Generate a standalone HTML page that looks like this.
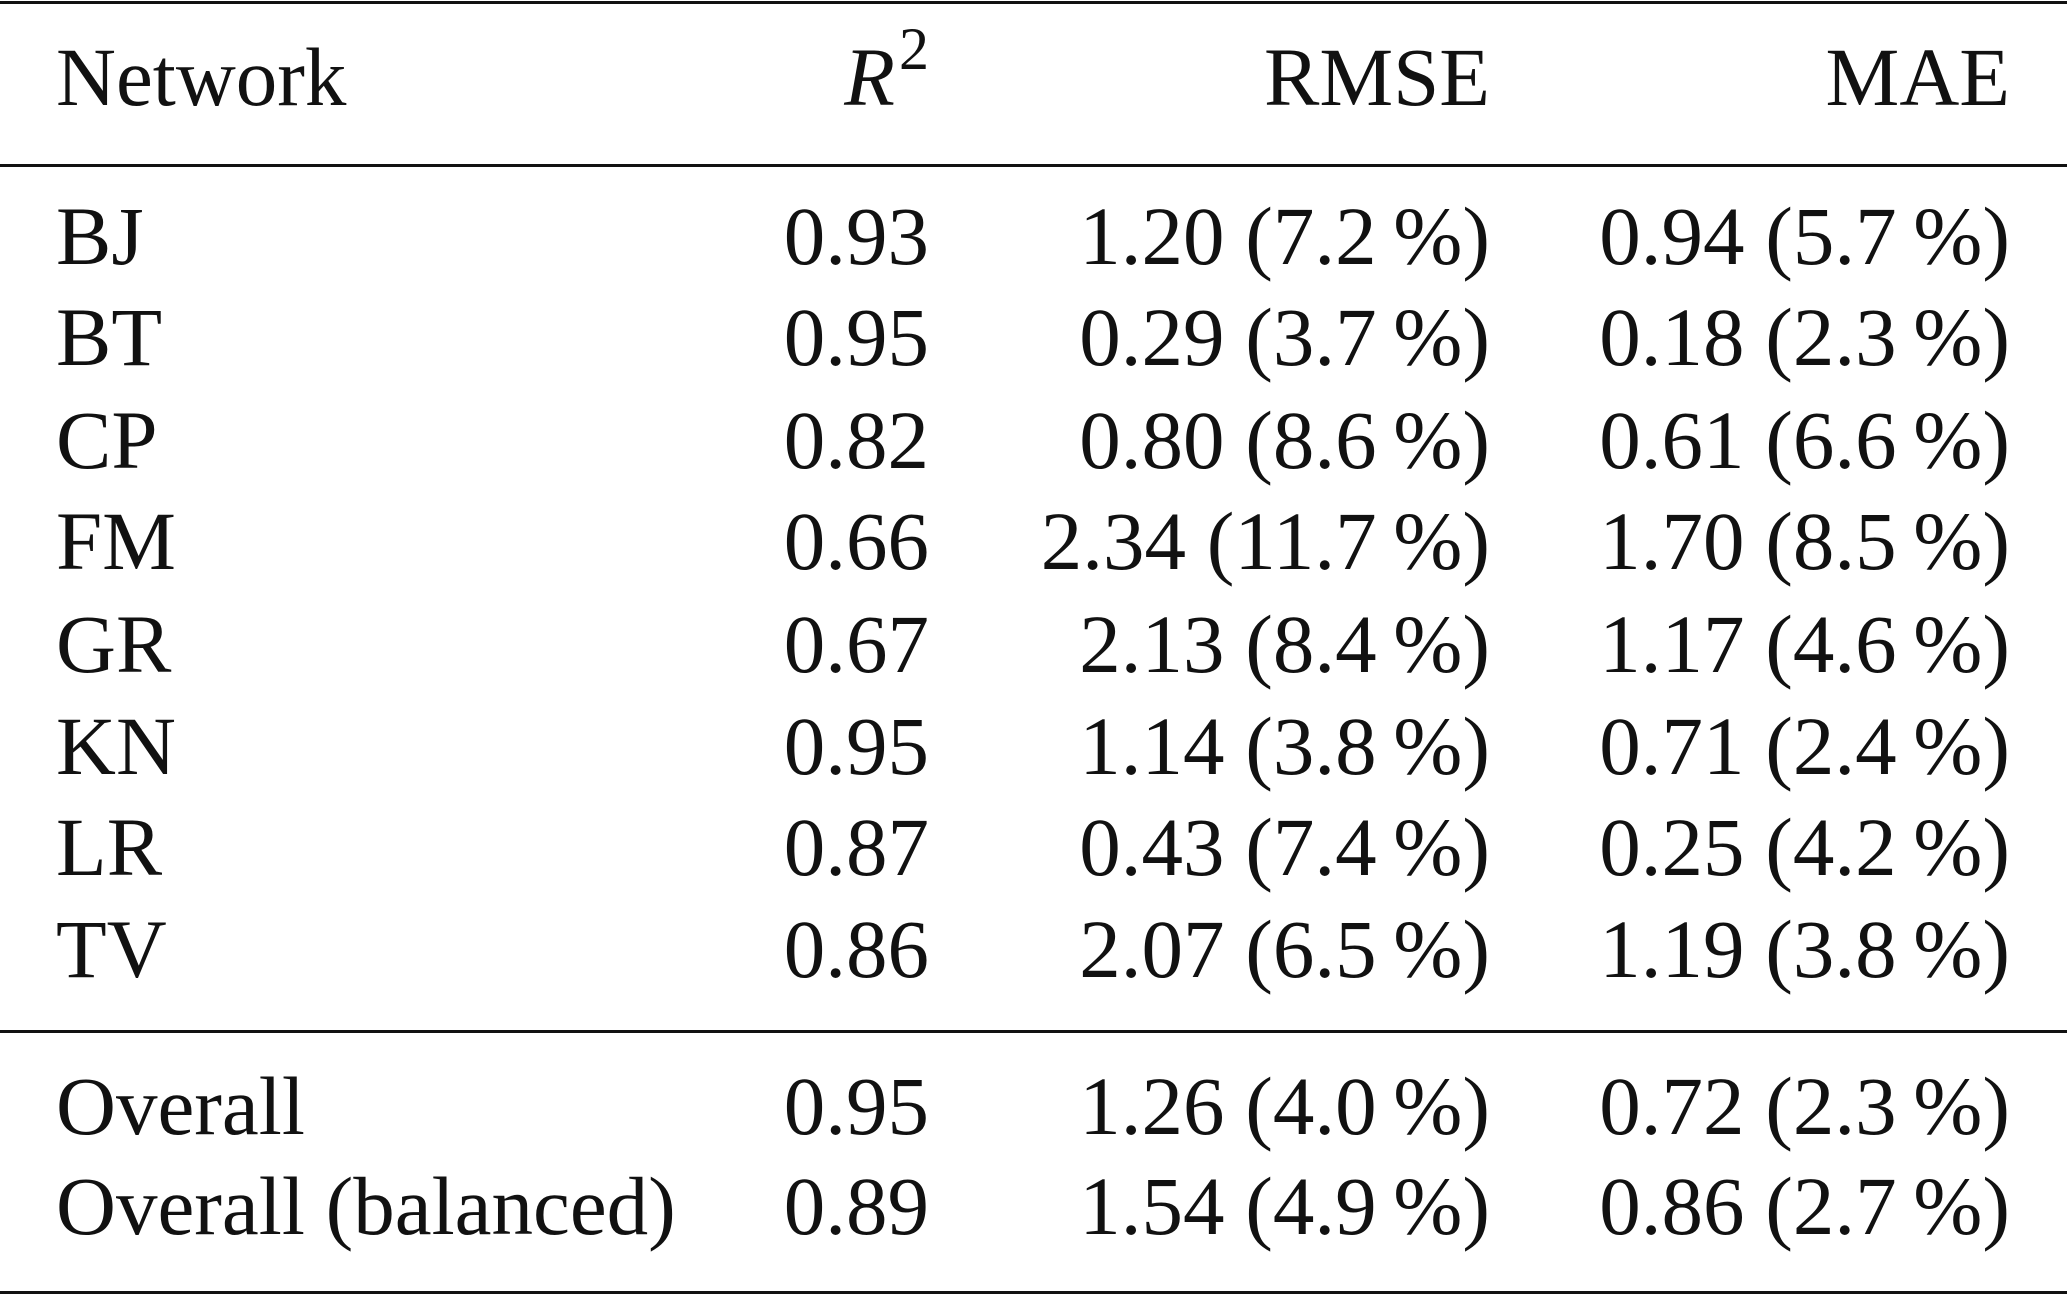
<!DOCTYPE html>
<html><head><meta charset="utf-8"><style>
html,body{margin:0;padding:0;background:#fff;}
body{width:2067px;height:1296px;position:relative;overflow:hidden;font-family:"Liberation Serif",serif;font-size:83px;color:#111;}
.r{position:absolute;left:0;width:2067px;height:3px;background:#111;}
.t{position:absolute;line-height:1;white-space:nowrap;}
.c0{left:56px;}
.c1{right:1138px;}
.c2{right:577px;}
.c3{right:57px;}
sup{font-size:60px;vertical-align:0;position:relative;top:-36px;margin-left:4px;}
</style></head><body>
<div class="r" style="top:1px"></div>
<div class="r" style="top:164px"></div>
<div class="r" style="top:1030px"></div>
<div class="r" style="top:1291px"></div>

<div class="t c0" style="top:36px">Network</div>
<div class="t c1" style="top:36px"><i>R</i><sup>2</sup></div>
<div class="t c2" style="top:36px">RMSE</div>
<div class="t c3" style="top:36px">MAE</div>

<div class="t c0" style="top:195px">BJ</div><div class="t c1" style="top:195px">0.93</div><div class="t c2" style="top:195px">1.20 (7.2&#8201;%)</div><div class="t c3" style="top:195px">0.94 (5.7&#8201;%)</div>
<div class="t c0" style="top:296px">BT</div><div class="t c1" style="top:296px">0.95</div><div class="t c2" style="top:296px">0.29 (3.7&#8201;%)</div><div class="t c3" style="top:296px">0.18 (2.3&#8201;%)</div>
<div class="t c0" style="top:399px">CP</div><div class="t c1" style="top:399px">0.82</div><div class="t c2" style="top:399px">0.80 (8.6&#8201;%)</div><div class="t c3" style="top:399px">0.61 (6.6&#8201;%)</div>
<div class="t c0" style="top:500px">FM</div><div class="t c1" style="top:500px">0.66</div><div class="t c2" style="top:500px">2.34 (11.7&#8201;%)</div><div class="t c3" style="top:500px">1.70 (8.5&#8201;%)</div>
<div class="t c0" style="top:603px">GR</div><div class="t c1" style="top:603px">0.67</div><div class="t c2" style="top:603px">2.13 (8.4&#8201;%)</div><div class="t c3" style="top:603px">1.17 (4.6&#8201;%)</div>
<div class="t c0" style="top:705px">KN</div><div class="t c1" style="top:705px">0.95</div><div class="t c2" style="top:705px">1.14 (3.8&#8201;%)</div><div class="t c3" style="top:705px">0.71 (2.4&#8201;%)</div>
<div class="t c0" style="top:806px">LR</div><div class="t c1" style="top:806px">0.87</div><div class="t c2" style="top:806px">0.43 (7.4&#8201;%)</div><div class="t c3" style="top:806px">0.25 (4.2&#8201;%)</div>
<div class="t c0" style="top:908px">TV</div><div class="t c1" style="top:908px">0.86</div><div class="t c2" style="top:908px">2.07 (6.5&#8201;%)</div><div class="t c3" style="top:908px">1.19 (3.8&#8201;%)</div>

<div class="t c0" style="top:1065px">Overall</div><div class="t c1" style="top:1065px">0.95</div><div class="t c2" style="top:1065px">1.26 (4.0&#8201;%)</div><div class="t c3" style="top:1065px">0.72 (2.3&#8201;%)</div>
<div class="t c0" style="top:1165px">Overall (balanced)</div><div class="t c1" style="top:1165px">0.89</div><div class="t c2" style="top:1165px">1.54 (4.9&#8201;%)</div><div class="t c3" style="top:1165px">0.86 (2.7&#8201;%)</div>
</body></html>
